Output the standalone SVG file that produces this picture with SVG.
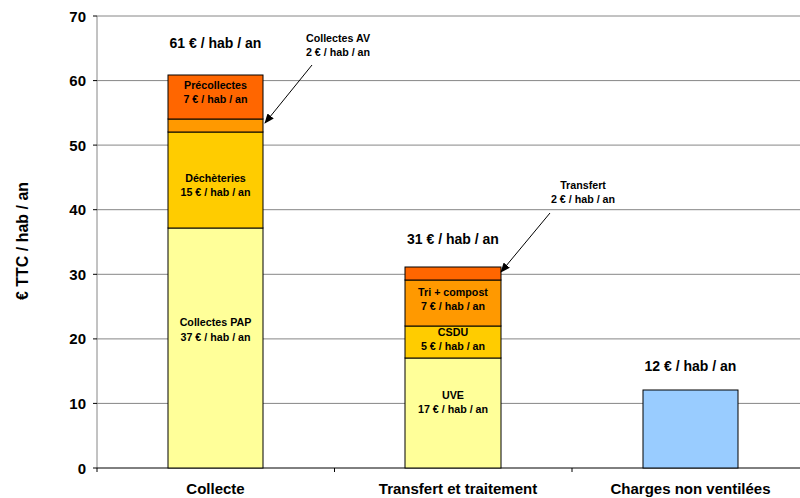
<svg xmlns="http://www.w3.org/2000/svg" width="800" height="498" viewBox="0 0 800 498">
<style>
text{font-family:"Liberation Sans",Arial,sans-serif;font-weight:bold;fill:#000}
.grid{stroke:#868686;stroke-width:1}
.bar{stroke:#000;stroke-width:1}
.lbl{font-size:10.7px;text-anchor:middle}
.tot{font-size:14px;text-anchor:middle}
.ax{font-size:15px;text-anchor:end}
.cat{font-size:15px;text-anchor:middle}
.ttl{font-size:16px;text-anchor:middle}
.arr{stroke:#000;stroke-width:1;fill:none;marker-end:url(#ah)}
</style>
<defs>
<marker id="ah" markerWidth="10" markerHeight="8" refX="9" refY="4" orient="auto" markerUnits="userSpaceOnUse">
<path d="M0,0 L10,4 L0,8 Z" fill="#000"/>
</marker>
</defs>
<rect width="800" height="498" fill="#fff"/>
<g id="axes">
<line class="grid" x1="97" y1="16" x2="800" y2="16"/>
<line class="grid" x1="97" y1="80.6" x2="800" y2="80.6"/>
<line class="grid" x1="97" y1="145.1" x2="800" y2="145.1"/>
<line class="grid" x1="97" y1="209.7" x2="800" y2="209.7"/>
<line class="grid" x1="97" y1="274.3" x2="800" y2="274.3"/>
<line class="grid" x1="97" y1="338.9" x2="800" y2="338.9"/>
<line class="grid" x1="97" y1="403.4" x2="800" y2="403.4"/>
<line x1="97" y1="16" x2="97" y2="468" stroke="#868686"/>
<g stroke="#000">
<line x1="93" y1="16" x2="97" y2="16"/>
<line x1="93" y1="80.6" x2="97" y2="80.6"/>
<line x1="93" y1="145.1" x2="97" y2="145.1"/>
<line x1="93" y1="209.7" x2="97" y2="209.7"/>
<line x1="93" y1="274.3" x2="97" y2="274.3"/>
<line x1="93" y1="338.9" x2="97" y2="338.9"/>
<line x1="93" y1="403.4" x2="97" y2="403.4"/>
<line x1="93" y1="468" x2="97" y2="468"/>
<line x1="97" y1="468" x2="800" y2="468"/>
<line x1="97" y1="468" x2="97" y2="472"/>
<line x1="334.5" y1="468" x2="334.5" y2="472"/>
<line x1="572" y1="468" x2="572" y2="472"/>
</g>
<text class="ax" x="86" y="21.5">70</text>
<text class="ax" x="86" y="86">60</text>
<text class="ax" x="86" y="150.5">50</text>
<text class="ax" x="86" y="215">40</text>
<text class="ax" x="86" y="279.5">30</text>
<text class="ax" x="86" y="344">20</text>
<text class="ax" x="86" y="408.5">10</text>
<text class="ax" x="86" y="473.5">0</text>
<text class="ttl" transform="translate(28,241) rotate(-90)">€ TTC / hab / an</text>
<text class="cat" x="215.5" y="494">Collecte</text>
<text class="cat" x="458" y="494">Transfert et traitement</text>
<text class="cat" x="690.5" y="494">Charges non ventilées</text>
</g>
<g id="collecte">
<rect class="bar" x="168" y="228" width="95" height="240" fill="#FFFF99"/>
<rect class="bar" x="168" y="132" width="95" height="96" fill="#FFCC00"/>
<rect class="bar" x="168" y="119" width="95" height="13" fill="#FF9900"/>
<rect class="bar" x="168" y="75" width="95" height="44" fill="#FF6600"/>
<text class="lbl" x="215.5" y="89">Précollectes</text>
<text class="lbl" x="215.5" y="102.5">7 € / hab / an</text>
<text class="lbl" x="215.5" y="182">Déchèteries</text>
<text class="lbl" x="215.5" y="196">15 € / hab / an</text>
<text class="lbl" x="215.5" y="326">Collectes PAP</text>
<text class="lbl" x="215.5" y="341">37 € / hab / an</text>
<text class="tot" x="215.5" y="48">61 € / hab / an</text>
</g>
<g id="collectes-av-label">
<text class="lbl" x="338" y="42">Collectes AV</text>
<text class="lbl" x="338" y="55.5">2 € / hab / an</text>
</g>
<g id="transfert">
<rect class="bar" x="405" y="358" width="96" height="110" fill="#FFFF99"/>
<rect class="bar" x="405" y="326" width="96" height="32" fill="#FFCC00"/>
<rect class="bar" x="405" y="280" width="96" height="46" fill="#FF9900"/>
<rect class="bar" x="405" y="267" width="96" height="13" fill="#FF6600"/>
<text class="lbl" x="453" y="296">Tri + compost</text>
<text class="lbl" x="453" y="309.5">7 € / hab / an</text>
<text class="lbl" x="453" y="336">CSDU</text>
<text class="lbl" x="453" y="349.5">5 € / hab / an</text>
<text class="lbl" x="453" y="399">UVE</text>
<text class="lbl" x="453" y="413">17 € / hab / an</text>
<text class="tot" x="453" y="244">31 € / hab / an</text>
</g>
<g id="transfert-label">
<text class="lbl" x="583" y="189">Transfert</text>
<text class="lbl" x="583" y="202.5">2 € / hab / an</text>
</g>
<g id="charges">
<rect class="bar" x="643" y="390" width="95" height="78" fill="#99CCFF"/>
<text class="tot" x="690.5" y="371">12 € / hab / an</text>
</g>
<g id="connectors">
<line class="arr" x1="312" y1="65" x2="265" y2="123"/>
<line class="arr" x1="550" y1="213" x2="501" y2="272"/>
</g>
</svg>
